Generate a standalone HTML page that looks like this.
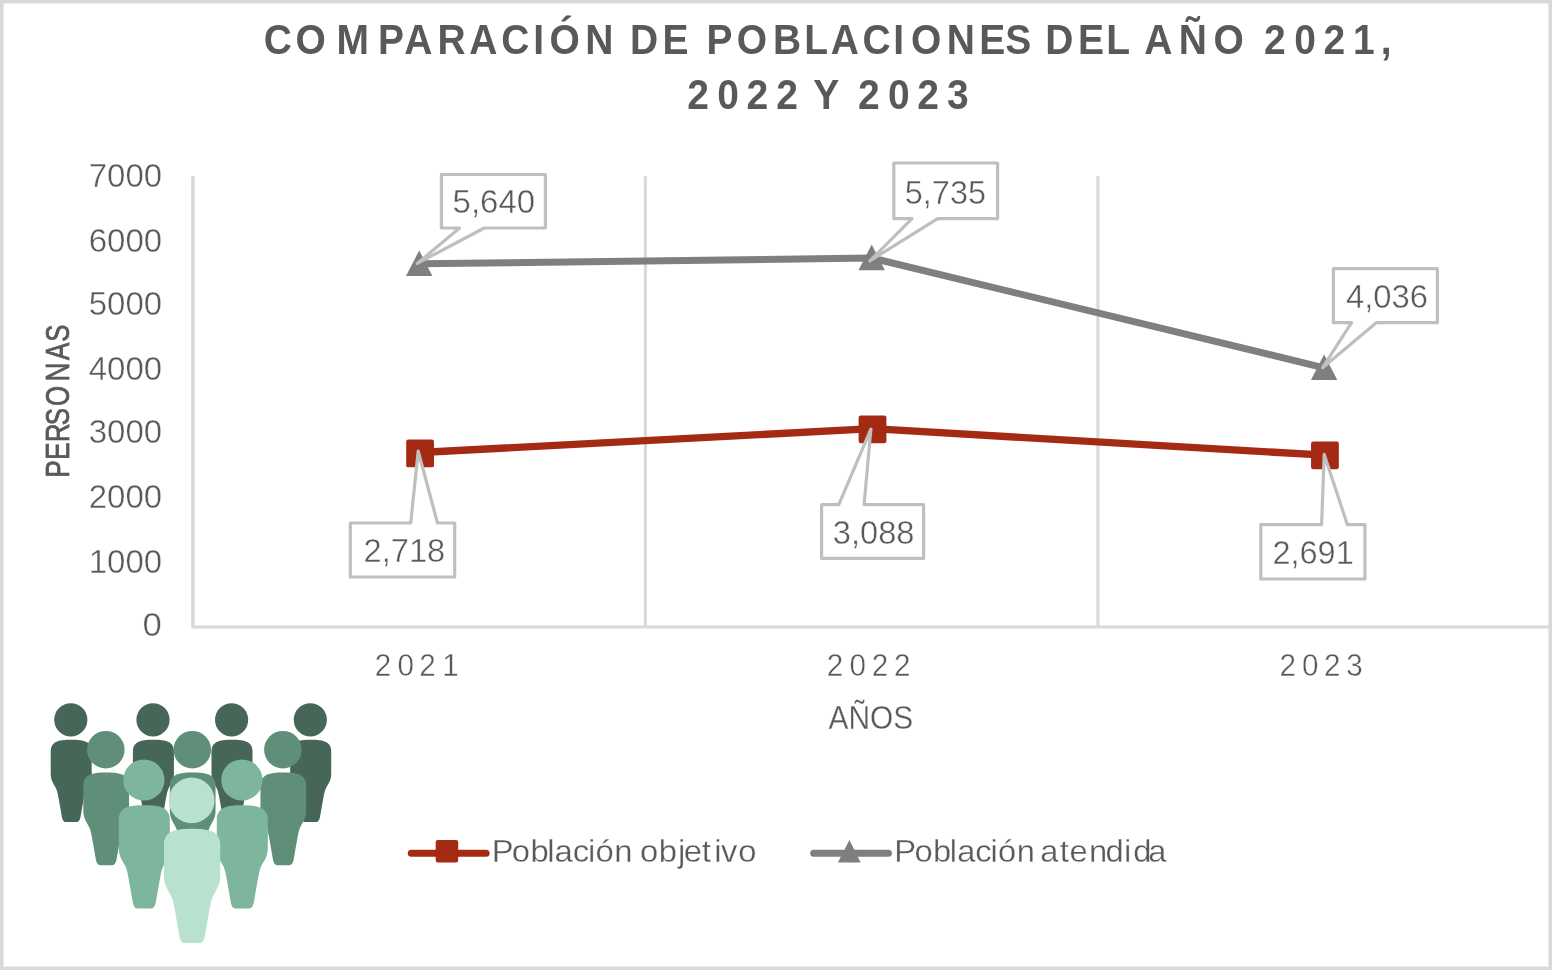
<!DOCTYPE html>
<html lang="es">
<head>
<meta charset="utf-8">
<title>Comparación de poblaciones del año 2021, 2022 y 2023</title>
<style>
html,body{margin:0;padding:0;background:#fff;}
body{width:1552px;height:970px;overflow:hidden;}
main,figure{display:block;margin:0;padding:0;width:1552px;height:970px;}
svg{display:block;font-family:"Liberation Sans", sans-serif;}
text{white-space:pre;}
.thin{stroke:#fff;stroke-width:0.4px;paint-order:fill stroke;}
.thin2{stroke:#fff;stroke-width:0.3px;paint-order:fill stroke;}
</style>
</head>
<body>
<main>
<figure>
<svg role="img" aria-label="Comparación de poblaciones del año 2021, 2022 y 2023" width="1552" height="970" viewBox="0 0 1552 970">
<g id="frame">
<rect x="0" y="0" width="1552" height="970" fill="#fff"/>
<path d="M0 0H1552V970H0Z M3.6 3.6V966.5H1548.4V3.6Z" fill="#D9D9D9" fill-rule="evenodd"/>
</g>
<g id="chart-title">
<text transform="translate(0,53.6) scale(0.9,1)" x="293.0 328.2 374.0 420.1 449.1 486.0 521.3 556.9 592.6 610.7 650.3 681.5 700.0 736.1 765.0 785.1 818.7 858.9 893.5 923.1 958.3 992.6 1012.3 1052.0 1088.1 1117.0 1145.9 1161.5 1197.7 1229.1 1255.6 1271.3 1309.8 1348.3 1382.0 1404.5 1438.2 1470.5 1503.3 1534.3" y="0" font-size="43.3" font-weight="bold" fill="#595959">COMPARACIÓN DE POBLACIONES DEL AÑO 2021,</text>
<text transform="translate(0,109.2) scale(0.9,1)" x="763.7 796.9 829.5 862.5 886.6 903.5 932.4 953.3 986.7 1019.2 1052.2" y="0" font-size="43.3" font-weight="bold" fill="#595959">2022 Y 2023</text>
</g>
<g id="axes">
<line x1="192.90" y1="176.2" x2="192.90" y2="626.95" stroke="#D9D9D9" stroke-width="3.1"/>
<line x1="645.40" y1="176.2" x2="645.40" y2="626.95" stroke="#D9D9D9" stroke-width="3.1"/>
<line x1="1097.90" y1="176.2" x2="1097.90" y2="626.95" stroke="#D9D9D9" stroke-width="3.1"/>
<polyline points="192.9,176.2 192.9,626.95 1552,626.95" fill="none" stroke="#D9D9D9" stroke-width="3.1" stroke-linejoin="round"/>
<text x="142.50" y="636.10" font-size="32.40" font-weight="normal" letter-spacing="0" textLength="19.30" lengthAdjust="spacingAndGlyphs" fill="#595959" class="thin">0</text>
<text x="88.70" y="573.20" font-size="32.40" font-weight="normal" letter-spacing="0" textLength="73.40" lengthAdjust="spacingAndGlyphs" fill="#595959" class="thin">1000</text>
<text x="88.70" y="508.10" font-size="32.40" font-weight="normal" letter-spacing="0" textLength="73.40" lengthAdjust="spacingAndGlyphs" fill="#595959" class="thin">2000</text>
<text x="88.70" y="443.40" font-size="32.40" font-weight="normal" letter-spacing="0" textLength="73.40" lengthAdjust="spacingAndGlyphs" fill="#595959" class="thin">3000</text>
<text x="88.70" y="380.00" font-size="32.40" font-weight="normal" letter-spacing="0" textLength="73.40" lengthAdjust="spacingAndGlyphs" fill="#595959" class="thin">4000</text>
<text x="88.70" y="315.20" font-size="32.40" font-weight="normal" letter-spacing="0" textLength="73.40" lengthAdjust="spacingAndGlyphs" fill="#595959" class="thin">5000</text>
<text x="88.70" y="252.00" font-size="32.40" font-weight="normal" letter-spacing="0" textLength="73.40" lengthAdjust="spacingAndGlyphs" fill="#595959" class="thin">6000</text>
<text x="88.70" y="187.00" font-size="32.40" font-weight="normal" letter-spacing="0" textLength="73.40" lengthAdjust="spacingAndGlyphs" fill="#595959" class="thin">7000</text>
<text transform="translate(69.1,476) rotate(-90) scale(0.78,1)" x="-1.8 20.9 43.5 65.1 89.7 121.4 148.8 172.2" y="0" font-size="33.1" font-weight="normal" fill="#595959" stroke="#595959" stroke-width="0.8">PERSONAS</text>
<text transform="translate(0,675.7) scale(0.94,1)" x="398.6 422.9 446.1 470.4" y="0" font-size="31.5" font-weight="normal" fill="#595959" class="thin">2021</text>
<text transform="translate(0,675.7) scale(0.94,1)" x="879.6 903.8 927.4 951.2" y="0" font-size="31.5" font-weight="normal" fill="#595959" class="thin">2022</text>
<text transform="translate(0,675.7) scale(0.94,1)" x="1361.2 1385.1 1408.6 1432.3" y="0" font-size="31.5" font-weight="normal" fill="#595959" class="thin">2023</text>
<text x="828.50" y="729.00" font-size="32.60" font-weight="normal" letter-spacing="0" textLength="84.70" lengthAdjust="spacingAndGlyphs" fill="#595959" class="thin2">AÑOS</text>
</g>
<g id="series">
<polyline points="420.1,452.5 872.5,428.7 1324.9,455.2" fill="none" stroke="#A42A13" stroke-width="7.3" stroke-linejoin="round" stroke-linecap="round"/>
<polyline points="419.2,263.8 871.7,258.0 1324.1,367.8" fill="none" stroke="#7F7F7F" stroke-width="7.0" stroke-linejoin="round" stroke-linecap="round"/>
<rect x="406.20" y="439.55" width="27.8" height="27.8" rx="2.2" fill="#A42A13"/>
<rect x="858.60" y="415.50" width="27.8" height="27.8" rx="2.2" fill="#A42A13"/>
<rect x="1311.05" y="441.45" width="27.8" height="27.8" rx="2.2" fill="#A42A13"/>
<path d="M419.20 250.40L432.40 276.10H406.00Z" fill="#7F7F7F"/>
<path d="M871.70 244.60L884.90 270.30H858.50Z" fill="#7F7F7F"/>
<path d="M1324.10 354.40L1337.30 380.10H1310.90Z" fill="#7F7F7F"/>
</g>
<g id="value-labels">
<path d="M441.4 174.5H545.4V228.0H484.3L417.3 263.4L459.6 228.0H441.4Z" fill="#fff" stroke="#BFBFBF" stroke-width="3.2" stroke-linejoin="round"/>
<text x="452.60" y="212.80" font-size="32.60" font-weight="normal" letter-spacing="0" textLength="82.60" lengthAdjust="spacingAndGlyphs" fill="#595959" class="thin">5,640</text>
<path d="M893.8 163.0H997.6V218.6H937.7L870.0 260.8L912.0 218.6H893.8Z" fill="#fff" stroke="#BFBFBF" stroke-width="3.2" stroke-linejoin="round"/>
<text x="904.80" y="203.80" font-size="32.60" font-weight="normal" letter-spacing="0" textLength="81.20" lengthAdjust="spacingAndGlyphs" fill="#595959" class="thin">5,735</text>
<path d="M1333.4 268.6H1437.4V322.7H1376.3L1322.6 367.7L1351.6 322.7H1333.4Z" fill="#fff" stroke="#BFBFBF" stroke-width="3.2" stroke-linejoin="round"/>
<text x="1346.00" y="308.00" font-size="32.60" font-weight="normal" letter-spacing="0" textLength="82.00" lengthAdjust="spacingAndGlyphs" fill="#595959" class="thin">4,036</text>
<path d="M350.3 577.0H454.7V523.0H437.5L418.2 451.1L410.7 523.0H350.3Z" fill="#fff" stroke="#BFBFBF" stroke-width="3.2" stroke-linejoin="round"/>
<text x="363.50" y="561.90" font-size="32.60" font-weight="normal" letter-spacing="0" textLength="81.70" lengthAdjust="spacingAndGlyphs" fill="#595959" class="thin">2,718</text>
<path d="M821.6 558.4H923.6V504.7H864.1L870.9 429.1L838.8 504.7H821.6Z" fill="#fff" stroke="#BFBFBF" stroke-width="3.2" stroke-linejoin="round"/>
<text x="832.80" y="543.90" font-size="32.60" font-weight="normal" letter-spacing="0" textLength="81.70" lengthAdjust="spacingAndGlyphs" fill="#595959" class="thin">3,088</text>
<path d="M1260.8 579.0H1365.0V524.7H1347.4L1324.2 454.4L1321.6 524.7H1260.8Z" fill="#fff" stroke="#BFBFBF" stroke-width="3.2" stroke-linejoin="round"/>
<text x="1272.40" y="563.90" font-size="32.60" font-weight="normal" letter-spacing="0" textLength="81.40" lengthAdjust="spacingAndGlyphs" fill="#595959" class="thin">2,691</text>
</g>
<g id="legend">
<line x1="411.35" y1="853.2" x2="486.05" y2="853.2" stroke="#A42A13" stroke-width="7.1" stroke-linecap="round"/>
<rect x="435.7" y="840.1" width="22.5" height="22.4" rx="2.2" fill="#A42A13"/>
<line x1="813.75" y1="853.2" x2="888.35" y2="853.2" stroke="#7F7F7F" stroke-width="7.1" stroke-linecap="round"/>
<path d="M849.4 840.1L860.7 862.5H837.9Z" fill="#7F7F7F"/>
<text transform="translate(0,862.2) scale(1.045,1)" x="470.6 489.8 507.7 523.6 530.7 548.0 562.6 569.8 587.9 605.4 612.5 630.4 648.7 654.4 671.5 683.4 690.0 706.5" y="0" font-size="31.4" font-weight="normal" fill="#595959" class="thin2">Población objetivo</text>
<text transform="translate(0,862.2) scale(1.041,1)" x="859.1 878.4 896.3 912.3 919.5 936.8 951.4 958.7 976.8 994.3 999.4 1017.9 1027.4 1046.0 1061.9 1079.7 1088.7 1103.0" y="0" font-size="31.4" font-weight="normal" fill="#595959" class="thin2">Población atendida</text>
</g>
<g id="people-icon">
<g fill="#466757"><circle cx="70.8" cy="719.8" r="16.60"/><path d="M71.20 739.70C77.35 739.70 83.50 740.11 87.11 742.34C89.65 743.98 91.70 746.70 91.70 750.82L91.70 773.98C91.70 780.90 88.42 784.20 86.12 788.98C84.94 791.61 84.24 795.73 83.66 799.11L80.75 815.51C80.22 818.80 79.40 822.10 76.53 822.10L71.20 822.10L65.87 822.10C63.00 822.10 62.18 818.80 61.65 815.51L58.74 799.11C58.16 795.73 57.47 791.61 56.28 788.98C53.98 784.20 50.70 780.90 50.70 773.98L50.70 750.82C50.70 746.70 52.75 743.98 55.29 742.34C58.90 740.11 65.05 739.70 71.20 739.70Z"/></g>
<g fill="#466757"><circle cx="153.0" cy="719.8" r="16.60"/><path d="M153.40 739.70C159.55 739.70 165.70 740.11 169.31 742.34C171.85 743.98 173.90 746.70 173.90 750.82L173.90 773.98C173.90 780.90 170.62 784.20 168.32 788.98C167.14 791.61 166.44 795.73 165.86 799.11L162.95 815.51C162.42 818.80 161.60 822.10 158.73 822.10L153.40 822.10L148.07 822.10C145.20 822.10 144.38 818.80 143.85 815.51L140.94 799.11C140.36 795.73 139.66 791.61 138.48 788.98C136.18 784.20 132.90 780.90 132.90 773.98L132.90 750.82C132.90 746.70 134.95 743.98 137.49 742.34C141.10 740.11 147.25 739.70 153.40 739.70Z"/></g>
<g fill="#466757"><circle cx="231.6" cy="719.8" r="16.60"/><path d="M232.00 739.70C238.15 739.70 244.30 740.11 247.91 742.34C250.45 743.98 252.50 746.70 252.50 750.82L252.50 773.98C252.50 780.90 249.22 784.20 246.92 788.98C245.74 791.61 245.04 795.73 244.46 799.11L241.55 815.51C241.02 818.80 240.20 822.10 237.33 822.10L232.00 822.10L226.67 822.10C223.80 822.10 222.98 818.80 222.45 815.51L219.54 799.11C218.96 795.73 218.26 791.61 217.08 788.98C214.78 784.20 211.50 780.90 211.50 773.98L211.50 750.82C211.50 746.70 213.55 743.98 216.09 742.34C219.70 740.11 225.85 739.70 232.00 739.70Z"/></g>
<g fill="#466757"><circle cx="310.3" cy="719.8" r="16.60"/><path d="M310.70 739.70C316.85 739.70 323.00 740.11 326.61 742.34C329.15 743.98 331.20 746.70 331.20 750.82L331.20 773.98C331.20 780.90 327.92 784.20 325.62 788.98C324.44 791.61 323.74 795.73 323.16 799.11L320.25 815.51C319.72 818.80 318.90 822.10 316.03 822.10L310.70 822.10L305.37 822.10C302.50 822.10 301.68 818.80 301.15 815.51L298.24 799.11C297.66 795.73 296.96 791.61 295.78 788.98C293.48 784.20 290.20 780.90 290.20 773.98L290.20 750.82C290.20 746.70 292.25 743.98 294.79 742.34C298.40 740.11 304.55 739.70 310.70 739.70Z"/></g>
<g fill="#608F79"><circle cx="105.8" cy="749.7" r="18.80"/><path d="M106.20 772.60C113.06 772.60 119.91 773.06 123.93 775.56C126.77 777.42 129.05 780.47 129.05 785.10L129.05 811.12C129.05 818.90 125.39 822.60 122.83 827.97C121.51 830.94 120.73 835.57 120.09 839.36L116.85 857.79C116.25 861.50 115.34 865.20 112.14 865.20L106.20 865.20L100.26 865.20C97.06 865.20 96.15 861.50 95.55 857.79L92.31 839.36C91.67 835.57 90.89 830.94 89.57 827.97C87.01 822.60 83.35 818.90 83.35 811.12L83.35 785.10C83.35 780.47 85.64 777.42 88.47 775.56C92.49 773.06 99.34 772.60 106.20 772.60Z"/></g>
<g fill="#608F79"><circle cx="192.3" cy="749.7" r="18.80"/><path d="M192.70 772.60C199.56 772.60 206.41 773.06 210.43 775.56C213.27 777.42 215.55 780.47 215.55 785.10L215.55 811.12C215.55 818.90 211.89 822.60 209.33 827.97C208.01 830.94 207.23 835.57 206.59 839.36L203.35 857.79C202.75 861.50 201.84 865.20 198.64 865.20L192.70 865.20L186.76 865.20C183.56 865.20 182.65 861.50 182.05 857.79L178.81 839.36C178.17 835.57 177.39 830.94 176.07 827.97C173.51 822.60 169.85 818.90 169.85 811.12L169.85 785.10C169.85 780.47 172.14 777.42 174.97 775.56C178.99 773.06 185.85 772.60 192.70 772.60Z"/></g>
<g fill="#608F79"><circle cx="282.9" cy="749.7" r="18.80"/><path d="M283.30 772.60C290.15 772.60 297.01 773.06 301.03 775.56C303.86 777.42 306.15 780.47 306.15 785.10L306.15 811.12C306.15 818.90 302.49 822.60 299.93 827.97C298.61 830.94 297.83 835.57 297.19 839.36L293.95 857.79C293.35 861.50 292.44 865.20 289.24 865.20L283.30 865.20L277.36 865.20C274.16 865.20 273.25 861.50 272.65 857.79L269.41 839.36C268.77 835.57 267.99 830.94 266.67 827.97C264.11 822.60 260.45 818.90 260.45 811.12L260.45 785.10C260.45 780.47 262.73 777.42 265.57 775.56C269.59 773.06 276.44 772.60 283.30 772.60Z"/></g>
<g fill="#7DB69D"><circle cx="143.9" cy="780.0" r="20.60"/><path d="M144.30 805.20C151.95 805.20 159.60 805.72 164.09 808.50C167.25 810.57 169.80 813.97 169.80 819.13L169.80 848.13C169.80 856.80 165.72 860.93 162.86 866.91C161.39 870.22 160.52 875.38 159.80 879.61L156.18 900.14C155.52 904.27 154.50 908.40 150.93 908.40L144.30 908.40L137.67 908.40C134.10 908.40 133.08 904.27 132.42 900.14L128.80 879.61C128.08 875.38 127.22 870.22 125.74 866.91C122.88 860.93 118.80 856.80 118.80 848.13L118.80 819.13C118.80 813.97 121.35 810.57 124.51 808.50C129.00 805.72 136.65 805.20 144.30 805.20Z"/></g>
<g fill="#7DB69D"><circle cx="241.9" cy="780.0" r="20.60"/><path d="M242.30 805.20C249.95 805.20 257.60 805.72 262.09 808.50C265.25 810.57 267.80 813.97 267.80 819.13L267.80 848.13C267.80 856.80 263.72 860.93 260.86 866.91C259.38 870.22 258.52 875.38 257.80 879.61L254.18 900.14C253.52 904.27 252.50 908.40 248.93 908.40L242.30 908.40L235.67 908.40C232.10 908.40 231.08 904.27 230.42 900.14L226.80 879.61C226.08 875.38 225.22 870.22 223.74 866.91C220.88 860.93 216.80 856.80 216.80 848.13L216.80 819.13C216.80 813.97 219.35 810.57 222.51 808.50C227.00 805.72 234.65 805.20 242.30 805.20Z"/></g>
<g fill="#B9E1CF"><circle cx="191.7" cy="800.4" r="22.80"/><path d="M192.10 828.70C200.53 828.70 208.96 829.27 213.91 832.36C217.39 834.65 220.20 838.42 220.20 844.14L220.20 876.29C220.20 885.90 215.70 890.48 212.56 897.11C210.93 900.77 209.97 906.49 209.18 911.18L205.19 933.95C204.46 938.52 203.34 943.10 199.41 943.10L192.10 943.10L184.79 943.10C180.86 943.10 179.74 938.52 179.01 933.95L175.02 911.18C174.23 906.49 173.27 900.77 171.64 897.11C168.50 890.48 164.00 885.90 164.00 876.29L164.00 844.14C164.00 838.42 166.81 834.65 170.29 832.36C175.24 829.27 183.67 828.70 192.10 828.70Z"/></g>
</g>
</svg>
</figure>
</main>
</body>
</html>
